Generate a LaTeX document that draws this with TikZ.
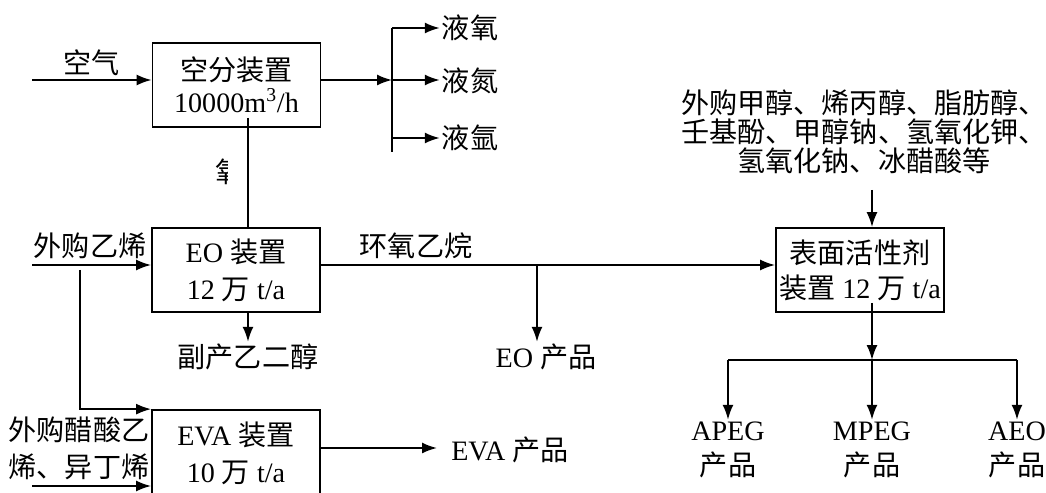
\documentclass[tikz,border=0pt]{standalone}
\usepackage{fontspec}
\setmainfont{Liberation Serif}
\newfontfamily\zhfont{Noto Sans CJK SC}
\newcommand{\zh}[1]{{\zhfont #1}}
\usetikzlibrary{arrows.meta}

\tikzstyle{unit} = [draw, line width=1pt, minimum width=3.36cm, minimum height=1.68cm, align=center, inner sep=0pt]
\tikzstyle{lbl} = [align=center, inner sep=1pt]
\tikzstyle{pipe} = [line width=1.1pt]
\tikzstyle{flow} = [pipe, -{Latex[length=3mm,width=2.2mm]}]

\begin{document}
\begin{tikzpicture}[x=0.02cm, y=-0.02cm, font=\fontsize{16pt}{20pt}\selectfont]
\useasboundingbox (0,0) rectangle (1046,493);

% units
\node[unit] (asu) at (236.5,85) {\zh{空分装置}\\[-2pt]10000m\textsuperscript{3}/h};
\node[unit] (eo) at (236,270) {EO \zh{装置}\\[1pt]12 \zh{万} t/a};
\node[unit, minimum height=1.72cm] (eva) at (236,453) {EVA \zh{装置}\\[1pt]10 \zh{万} t/a};
\node[unit] (surf) at (860,270) {\zh{表面活性剂}\\\zh{装置} 12 \zh{万} t/a};

% streams
\node[lbl] (air) at (92,63) {\zh{空气}};
\node[lbl] (lox) at (470,28) {\zh{液氧}};
\node[lbl] (lin) at (470,81) {\zh{液氮}};
\node[lbl] (lar) at (470,138) {\zh{液氩}};
\node[lbl] (eth) at (90,246) {\zh{外购乙烯}};
\node[lbl] (meg) at (248,357) {\zh{副产乙二醇}};
\node[lbl] (eox) at (416,246) {\zh{环氧乙烷}};
\node[lbl] (eoprod) at (546,357) {EO \zh{产品}};
\node[lbl] (vac) at (79,448) {\zh{外购醋酸乙}\\[1pt]\zh{烯、异丁烯}};
\node[lbl] (evaprod) at (510,450) {EVA \zh{产品}};
\node[lbl, font=\fontsize{16pt}{16.5pt}\selectfont] (chem) at (864,132)
    {\zh{外购甲醇、烯丙醇、脂肪醇、}\\\zh{壬基酚、甲醇钠、氢氧化钾、}\\\zh{氢氧化钠、冰醋酸等}};
\node[lbl] (apeg) at (728,450) {APEG\\\zh{产品}};
\node[lbl] (mpeg) at (872,450) {MPEG\\\zh{产品}};
\node[lbl] (aeo) at (1017,450) {AEO\\\zh{产品}};

% cut-off label on the oxygen line
\begin{scope}
\clip (208,156) rectangle (227,188);
\node[lbl] (oxy) at (230,172) {\zh{氧}};
\end{scope}

\coordinate (air_in) at (32,80);
\coordinate (split) at (392,80);
\coordinate (stop) at (392,28);
\coordinate (sbot) at (392,152);
\coordinate (o2) at (248,118);
\coordinate (eth_in) at (32,265);
\coordinate (eth_br) at (80,270);
\coordinate (eo_br) at (537,265);
\coordinate (eva_in) at (32,486);
\coordinate (eva_out) at (437,448);
\coordinate (chem_in) at (872,190);
\coordinate (surf_out) at (872,303);
\coordinate (dist) at (872,360);

\draw[flow] (air_in) -- (air_in -| asu.west);
\draw[flow] (asu.east |- split) -- (split);
\draw[pipe] (stop) -- (sbot);
\draw[flow] (stop) -- (stop -| lox.west);
\draw[flow] (split) -- (split -| lin.west);
\draw[flow] (split |- lar) -- (lar.west);
\draw[pipe] (o2) -- (o2 |- eo.north);

\draw[flow] (eth_in) -- (eth_in -| eo.west);
\draw[flow] (eth_br) |- (eva.north west);
\draw[flow] (o2 |- eo.south) -- (o2 |- meg.north);
\draw[flow] (eo.east |- eth_in) -- (surf.west |- eth_in);
\draw[flow] (eo_br) -- (eo_br |- eoprod.north);

\draw[flow] (eva_in) -- (eva_in -| eva.west);
\draw[flow] (eva.east |- eva_out) -- (eva_out);

\draw[flow] (chem_in) -- (chem_in |- surf.north);
\draw[flow] (surf_out) -- (dist);
\draw[pipe] (dist -| apeg) -- (dist -| aeo);
\draw[flow] (dist -| apeg) -- (apeg.north);
\draw[flow] (dist) -- (mpeg.north);
\draw[flow] (dist -| aeo) -- (aeo.north);
\end{tikzpicture}
\end{document}
